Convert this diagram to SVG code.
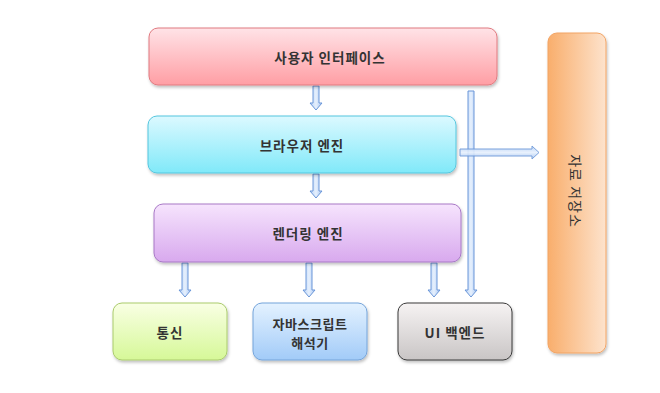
<svg xmlns="http://www.w3.org/2000/svg" width="660" height="393" viewBox="0 0 660 393">
<defs>
<linearGradient id="gUI" x1="0" y1="0" x2="0" y2="1"><stop offset="0" stop-color="#ffe3e7"/><stop offset="1" stop-color="#ff9ea4"/></linearGradient>
<linearGradient id="gBR" x1="0" y1="0" x2="0" y2="1"><stop offset="0" stop-color="#dcf9ff"/><stop offset="1" stop-color="#80e9f9"/></linearGradient>
<linearGradient id="gRE" x1="0" y1="0" x2="0" y2="1"><stop offset="0" stop-color="#f6e4fd"/><stop offset="1" stop-color="#d8a9ee"/></linearGradient>
<linearGradient id="gNET" x1="0" y1="0" x2="0" y2="1"><stop offset="0" stop-color="#f9ffe4"/><stop offset="1" stop-color="#d6f898"/></linearGradient>
<linearGradient id="gJS" x1="0" y1="0" x2="0" y2="1"><stop offset="0" stop-color="#e4f2ff"/><stop offset="1" stop-color="#a2cbf8"/></linearGradient>
<linearGradient id="gUB" x1="0" y1="0" x2="0" y2="1"><stop offset="0" stop-color="#f6f3f3"/><stop offset="1" stop-color="#c9c5c5"/></linearGradient>
<linearGradient id="gST" x1="0" y1="0" x2="1" y2="0"><stop offset="0" stop-color="#f9ae6c"/><stop offset="1" stop-color="#fde3cd"/></linearGradient>
<linearGradient id="gAR" x1="0" y1="0" x2="1" y2="0"><stop offset="0" stop-color="#b8d2f6"/><stop offset="0.5" stop-color="#e6f0fd"/><stop offset="1" stop-color="#a8c6f2"/></linearGradient>
<linearGradient id="gARh" x1="0" y1="0" x2="0" y2="1"><stop offset="0" stop-color="#b8d2f6"/><stop offset="0.5" stop-color="#e6f0fd"/><stop offset="1" stop-color="#a8c6f2"/></linearGradient>
<filter id="sh" x="-10%" y="-10%" width="120%" height="130%"><feDropShadow dx="1" dy="2" stdDeviation="1.5" flood-color="#000" flood-opacity="0.25"/></filter>
</defs>
<style>
.box{filter:url(#sh);stroke-width:1}
.lbl{font-family:"Noto Sans CJK KR","Noto Sans",sans-serif;font-size:13.5px;font-weight:bold;fill:#333;text-anchor:middle;dominant-baseline:central;letter-spacing:1px}
.sm{font-size:13px;letter-spacing:0.5px}
.arr{fill:url(#gAR);stroke:#6a96d8;stroke-width:1}
.arrh{fill:url(#gARh);stroke:#6a96d8;stroke-width:1}
</style>
<rect width="660" height="393" fill="#fff"/>
<g id="connectors">
<path class="arr" d="M313,86 L319,86 L319,103 L322,103 L316,110 L310,103 L313,103 Z"/>
<path class="arr" d="M313,174 L319,174 L319,191 L322,191 L316,198 L310,191 L313,191 Z"/>
<path class="arr" d="M468,91 L474,91 L474,290 L477,290 L471,297 L465,290 L468,290 Z"/>
<path class="arr" d="M182,263 L188,263 L188,290 L191,290 L185,297 L179,290 L182,290 Z"/>
<path class="arr" d="M306,263 L312,263 L312,290 L315,290 L309,297 L303,290 L306,290 Z"/>
<path class="arr" d="M431,263 L437,263 L437,290 L440,290 L434,297 L428,290 L431,290 Z"/>
<path class="arrh" opacity="0.9" d="M460,149 L532,149 L532,146 L539,152.5 L532,159 L532,156 L460,156 Z"/>
</g>
<g id="n-ui"><rect class="box" x="149" y="28" width="348" height="57" rx="9" fill="url(#gUI)" stroke="#e07a80"/><text class="lbl" x="330" y="56.5">사용자 인터페이스</text></g>
<g id="n-browser"><rect class="box" x="148" y="116" width="308" height="57" rx="9" fill="url(#gBR)" stroke="#55c6de"/><text class="lbl" x="302" y="144.5">브라우저 엔진</text></g>
<g id="n-render"><rect class="box" x="154" y="204" width="307" height="58" rx="9" fill="url(#gRE)" stroke="#a878c6"/><text class="lbl" x="308" y="233">렌더링 엔진</text></g>
<g id="n-net"><rect class="box" x="113" y="303" width="114" height="57" rx="9" fill="url(#gNET)" stroke="#aacb6c"/><text class="lbl" x="170" y="331.5">통신</text></g>
<g id="n-js"><rect class="box" x="253" y="303" width="114" height="57" rx="9" fill="url(#gJS)" stroke="#74a4da"/><text class="lbl sm" x="310" y="323">자바스크립트</text><text class="lbl sm" x="310" y="342">해석기</text></g>
<g id="n-uib"><rect class="box" x="398" y="303" width="114" height="57" rx="9" fill="url(#gUB)" stroke="#3a3a3a"/><text class="lbl" x="455" y="331.5">UI 백엔드</text></g>
<g id="n-store"><rect class="box" x="548" y="33" width="58" height="320" rx="9" fill="url(#gST)" stroke="#f2a464"/><text class="lbl" style="font-weight:normal;font-size:14px" x="0" y="0" transform="translate(576,191) rotate(90)">자료 저장소</text></g>
</svg>
